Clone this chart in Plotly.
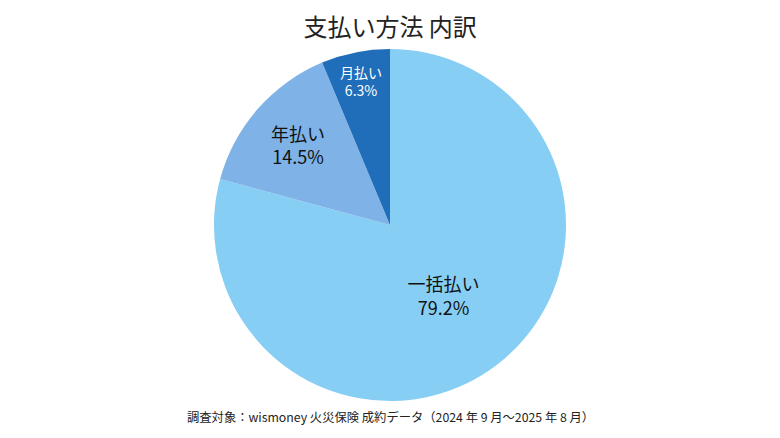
import plotly.graph_objects as go

labels = ["一括払い", "年払い", "月払い"]
values = [79.2, 14.5, 6.3]
colors = ["#87CEF5", "#7FB2E6", "#206DB9"]
text_colors = ["#111111", "#111111", "#FFFFFF"]
text_sizes = [18, 18, 16]

FONT = "Noto Sans CJK JP"

fig = go.Figure(go.Pie(
    labels=labels,
    values=values,
    sort=False,
    direction="clockwise",
    rotation=0,
    marker=dict(colors=colors, line=dict(width=0)),
    texttemplate="%{label}<br>%{value:.1f}%",
    textposition="inside",
    insidetextorientation="horizontal",
    insidetextfont=dict(family=FONT, size=text_sizes, color=text_colors),
    hoverinfo="label+percent",
    showlegend=False,
))

# the page body adds an 8px offset, so the figure is a bit smaller than the window
fig.update_layout(
    width=772, height=430,
    margin=dict(l=0, r=8, t=41, b=37),
    paper_bgcolor="white",
    font=dict(family=FONT),
    title=dict(text="支払い方法 内訳", x=0.495, xanchor="center", y=0.955, yanchor="middle",
               font=dict(family=FONT, size=24, color="#222222")),
    annotations=[dict(
        text="調査対象：wismoney 火災保険 成約データ（2024 年 9 月〜2025 年 8 月）",
        x=0.5, y=-0.015, xref="paper", yref="paper", xanchor="center", yanchor="top",
        showarrow=False, font=dict(family=FONT, size=12.3, color="#222222"),
    )],
)

fig.write_html("out.html")
